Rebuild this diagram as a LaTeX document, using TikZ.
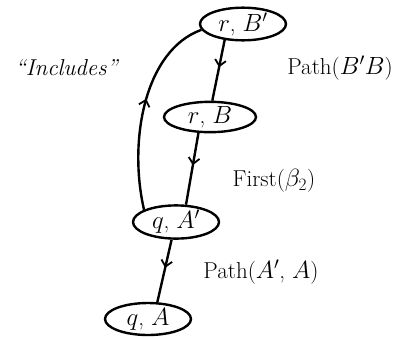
\documentclass[tikz,border=0pt]{standalone}
\usetikzlibrary{arrows.meta,decorations.markings,shapes.geometric}
\begin{document}
\begin{tikzpicture}[x=1pt,y=-1pt,
  every node/.style={font=\fontsize{23}{27}\selectfont},
  state/.style={ellipse,draw,line width=2.4pt,inner sep=0pt,minimum width=86pt,minimum height=28pt},
  lbl/.style={inner sep=0pt},
  conn/.style={line width=2.4pt,postaction={decorate},
    decoration={markings,mark=at position #1 with {\arrow{Straight Barb[length=6pt,width=11pt,line width=1.8pt]}}}},
  conn/.default=0.45]
\useasboundingbox (0,0) rectangle (398,338);
\node[state,minimum height=30pt] (rBp) at (243,24) {$r$, $B'$};
\node[state,minimum width=92pt] (rB) at (210,117) {$r$, $B$};
\node[state,minimum height=32pt] (qAp) at (176,222) {$q$, $A'$};
\node[state,minimum height=32pt] (qA) at (148,319) {$q$, $A$};
\draw[conn] (rBp.-139) -- (rB.82);
\draw[conn] (rB.-126) -- (qAp.60);
\draw[conn] (qAp.-104) -- (qA.61);
\draw[conn=0.55] (qAp.159) .. controls (128,140) and (145,50) .. (rBp.188);
\node[lbl] (inc) at (67,68) {\textit{``Includes''}};
\node[lbl] (pBB) at (340,68) {Path($B'B$)};
\node[lbl] (fst) at (274,181) {First($\beta_2$)};
\node[lbl] (pAA) at (261,272) {Path($A'$, $A$)};
\end{tikzpicture}
\end{document}
